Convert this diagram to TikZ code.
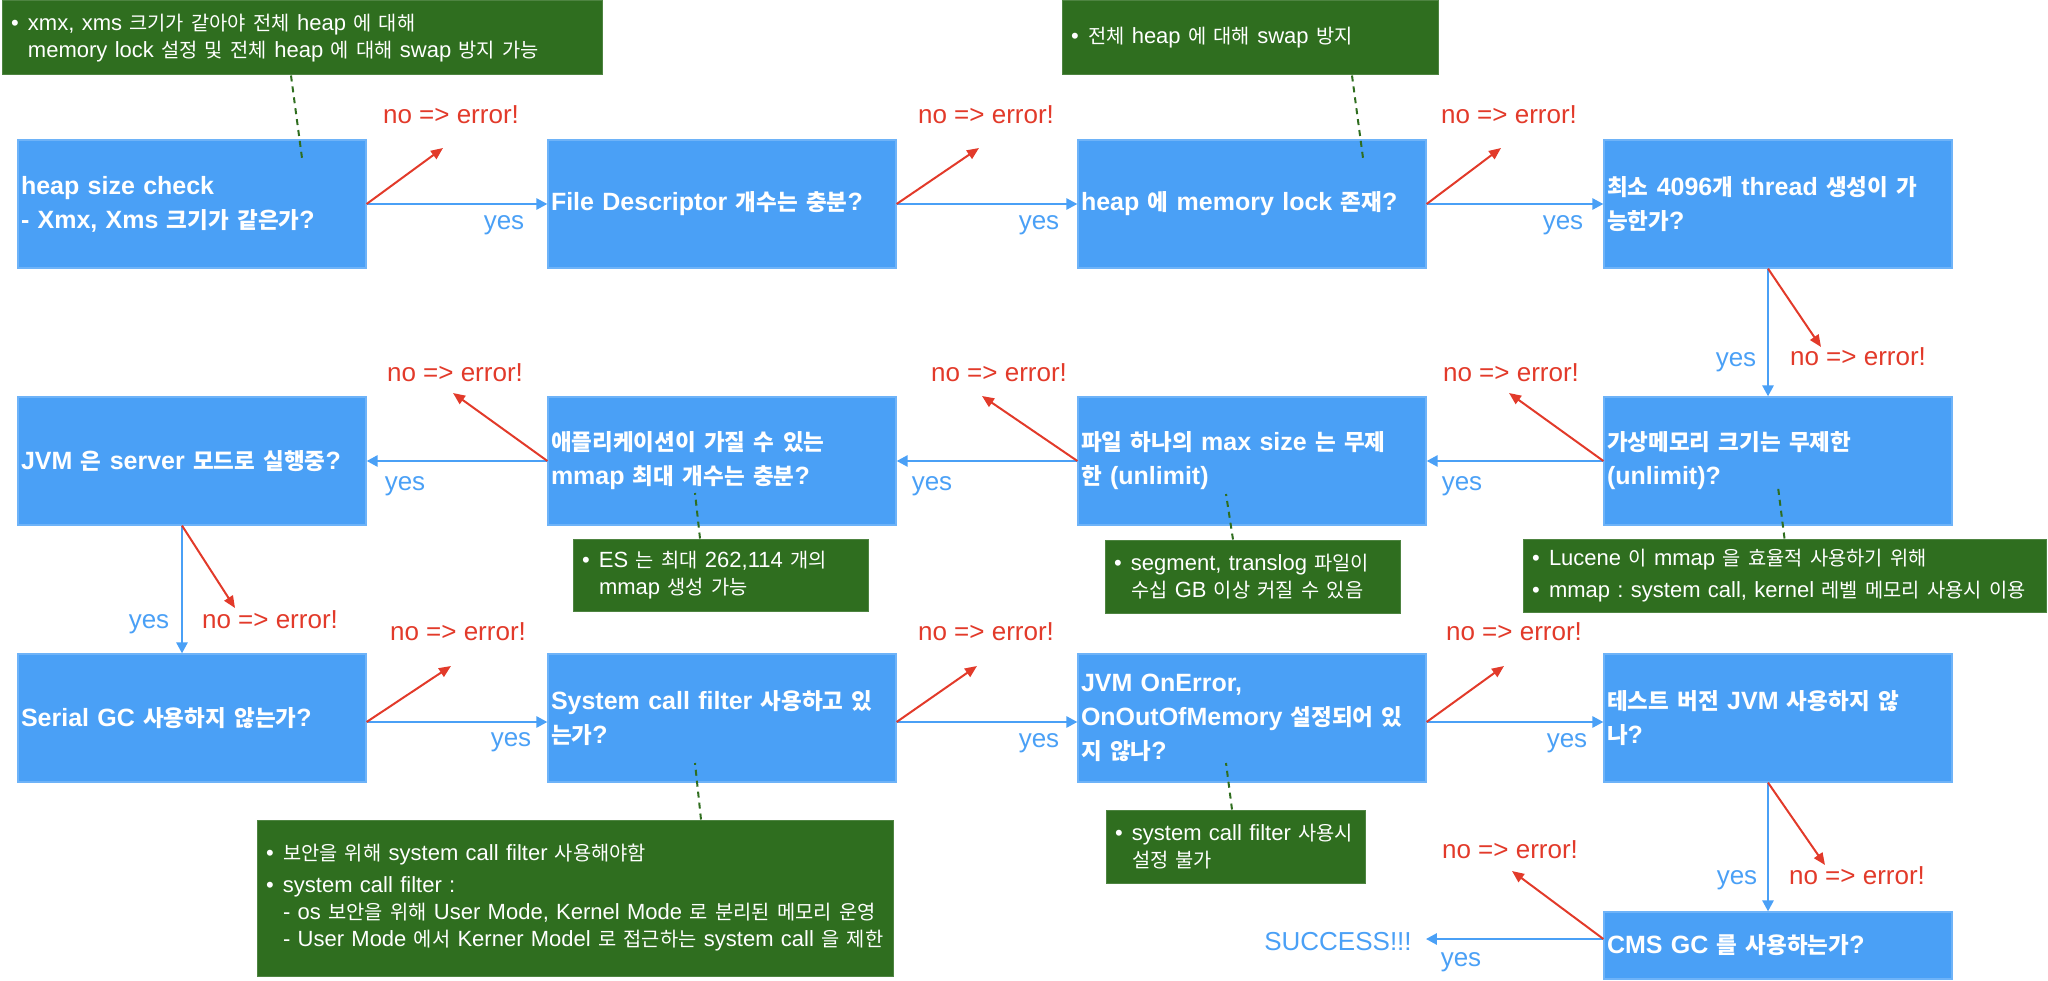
\documentclass[tikz,border=0pt]{standalone}
\usepackage{fontspec}
\setmainfont{Liberation Sans}
\newfontfamily\krfont[Scale=0.9]{Noto Sans CJK KR}
\usetikzlibrary{arrows.meta,calc}
\XeTeXinterchartokenstate=1
\newXeTeXintercharclass\krclass
\count255="AC00
\loop\ifnum\count255<"D7A4\relax
  \XeTeXcharclass\count255=\krclass
  \advance\count255 by 1
\repeat
\XeTeXinterchartoks 0 \krclass={\krfont}
\XeTeXinterchartoks 4095 \krclass={\krfont}
\XeTeXinterchartoks \krclass 0={\rmfamily}
\XeTeXinterchartoks \krclass 4095={\rmfamily}
\frenchspacing
\definecolor{qblue}{RGB}{74,160,246}
\definecolor{qgreen}{RGB}{47,110,31}
\definecolor{qred}{RGB}{226,58,42}
\newcommand{\bl}{\makebox[17pt][l]{•}}
\newcommand{\ind}{\hspace*{17pt}}
\begin{document}
\begin{tikzpicture}[x=1pt,y=-1pt,
  qbox/.style={fill=qblue, draw=qblue!80!white, line width=1.2pt, text=white,
    font=\fontsize{25}{34}\selectfont\bfseries, text width=342pt, align=left,
    inner xsep=3pt, inner ysep=0pt, minimum height=128pt},
  gbox/.style={fill=qgreen, draw=qgreen!85!white, line width=1pt, text=white,
    font=\fontsize{22}{27}\selectfont\frenchspacing, align=left, inner xsep=9pt, inner ysep=0pt},
  yarr/.style={draw=qblue, line width=2.6pt, -{Triangle[length=11pt,width=11pt]}},
  narr/.style={draw=qred, line width=2pt, -{Triangle[length=12pt,width=10pt]}},
  ylab/.style={text=qblue, font=\fontsize{26}{30}\selectfont, inner sep=0pt},
  nlab/.style={text=qred, font=\fontsize{26}{30}\selectfont, inner sep=0pt},
  note/.style={draw=qgreen, line width=2pt, dash pattern=on 6pt off 5pt}]
\useasboundingbox (0,0) rectangle (2048,981);

% question boxes
\node[qbox] (b1) at (192,204) {heap size check\\- Xmx, Xms 크기가 같은가?};
\node[qbox] (b2) at (722,204) {File Descriptor 개수는 충분?};
\node[qbox] (b3) at (1252,204) {heap 에 memory lock 존재?};
\node[qbox] (b4) at (1778,204) {최소 4096개 thread 생성이 가\\능한가?};
\node[qbox] (b5) at (192,461) {JVM 은 server 모드로 실행중?};
\node[qbox] (b6) at (722,461) {애플리케이션이 가질 수 있는\\mmap 최대 개수는 충분?};
\node[qbox] (b7) at (1252,461) {파일 하나의 max size 는 무제\\한 (unlimit)};
\node[qbox] (b8) at (1778,461) {가상메모리 크기는 무제한\\(unlimit)?};
\node[qbox] (b9) at (192,718) {Serial GC 사용하지 않는가?};
\node[qbox] (b10) at (722,718) {System call filter 사용하고 있\\는가?};
\node[qbox] (b11) at (1252,718) {JVM OnError,\\OnOutOfMemory 설정되어 있\\지 않나?};
\node[qbox] (b12) at (1778,718) {테스트 버전 JVM 사용하지 않\\나?};
\node[qbox, minimum height=67pt] (b13) at (1778,945.5) {CMS GC 를 사용하는가?};

% notes
\node[gbox, text width=582pt, minimum height=74pt] (g1) at (302,38)
  {\bl xmx, xms 크기가 같아야 전체 heap 에 대해\\\ind memory lock 설정 및 전체 heap 에 대해 swap 방지 가능};
\node[gbox, text width=358pt, minimum height=74pt] (g2) at (1250,38)
  {\bl 전체 heap 에 대해 swap 방지};
\node[gbox, text width=277pt, minimum height=72pt] (g3) at (720.5,575)
  {\bl ES 는 최대 262,114 개의\\\ind mmap 생성 가능};
\node[gbox, text width=277pt, minimum height=73pt] (g4) at (1252.5,576.5)
  {\bl segment, translog 파일이\\\ind 수십 GB 이상 커질 수 있음};
\node[gbox, text width=505pt, minimum height=73pt] (g5) at (1784.5,575.5)
  {\bl Lucene 이 mmap 을 효율적 사용하기 위해\\[5pt]\bl mmap : system call, kernel 레벨 메모리 사용시 이용};
\node[gbox, text width=618pt, minimum height=156pt] (g6) at (575,898)
  {\bl 보안을 위해 system call filter 사용해야함\\[5pt]\bl system call filter :\\\ind - os 보안을 위해 User Mode, Kernel Mode 로 분리된 메모리 운영\\\ind - User Mode 에서 Kerner Model 로 접근하는 system call 을 제한};
\node[gbox, text width=241pt, minimum height=73pt] (g7) at (1235.5,846.5)
  {\bl system call filter 사용시\\\ind 설정 불가};

% red tips
\coordinate (e1) at (443,148);
\coordinate (e2) at (979,148);
\coordinate (e3) at (1501,148);
\coordinate (e4) at (1821,347);
\coordinate (e8) at (1509,393);
\coordinate (e7) at (982,396);
\coordinate (e6) at (453,393);
\coordinate (e5) at (235,608);
\coordinate (e9) at (451,666);
\coordinate (e10) at (977,666);
\coordinate (e11) at (1504,666);
\coordinate (e12) at (1825,865);
\coordinate (e13) at (1512,871);

% success
\node[ylab] (succ) at (1338,942) {SUCCESS!!!};

% yes arrows
\draw[yarr] (b1.east) -- (b2.west);
\draw[yarr] (b2.east) -- (b3.west);
\draw[yarr] (b3.east) -- (b4.west);
\draw[yarr] ([xshift=-10pt]b4.south) -- ([xshift=-10pt]b8.north);
\draw[yarr] (b8.west) -- (b7.east);
\draw[yarr] (b7.west) -- (b6.east);
\draw[yarr] (b6.west) -- (b5.east);
\draw[yarr] ([xshift=-10pt]b5.south) -- ([xshift=-10pt]b9.north);
\draw[yarr] ([yshift=-4pt]b9.east) -- ([yshift=-4pt]b10.west);
\draw[yarr] ([yshift=-4pt]b10.east) -- ([yshift=-4pt]b11.west);
\draw[yarr] ([yshift=-4pt]b11.east) -- ([yshift=-4pt]b12.west);
\draw[yarr] ([xshift=-10pt]b12.south) -- ([xshift=-10pt]b13.north);
\draw[yarr] ([yshift=6.5pt]b13.west) -- ([xshift=14pt,yshift=3pt]succ.east);

% no arrows
\draw[narr] (b1.east) -- (e1);
\draw[narr] (b2.east) -- (e2);
\draw[narr] (b3.east) -- (e3);
\draw[narr] ([xshift=-10pt]b4.south) -- (e4);
\draw[narr] (b8.west) -- (e8);
\draw[narr] (b7.west) -- (e7);
\draw[narr] (b6.west) -- (e6);
\draw[narr] ([xshift=-10pt]b5.south) -- (e5);
\draw[narr] ([yshift=-4pt]b9.east) -- (e9);
\draw[narr] ([yshift=-4pt]b10.east) -- (e10);
\draw[narr] ([yshift=-4pt]b11.east) -- (e11);
\draw[narr] ([xshift=-10pt]b12.south) -- (e12);
\draw[narr] ([yshift=6.5pt]b13.west) -- (e13);

% labels
\node[nlab] (n1) at (451,115) {no => error!};
\node[nlab] (n2) at (986,115) {no => error!};
\node[nlab] (n3) at (1509,115) {no => error!};
\node[nlab] (n4) at (1858,357) {no => error!};
\node[nlab] (n8) at (1511,373) {no => error!};
\node[nlab] (n7) at (999,373) {no => error!};
\node[nlab] (n6) at (455,373) {no => error!};
\node[nlab] (n5) at (270,620) {no => error!};
\node[nlab] (n9) at (458,632) {no => error!};
\node[nlab] (n10) at (986,632) {no => error!};
\node[nlab] (n11) at (1514,632) {no => error!};
\node[nlab] (n12) at (1857,876) {no => error!};
\node[nlab] (n13) at (1510,850) {no => error!};

\node[ylab] (y1) at (504,225) {yes};
\node[ylab] (y2) at (1039,225) {yes};
\node[ylab] (y3) at (1563,225) {yes};
\node[ylab] (y4) at (1736,362) {yes};
\node[ylab] (y8) at (1462,486) {yes};
\node[ylab] (y7) at (932,486) {yes};
\node[ylab] (y6) at (405,486) {yes};
\node[ylab] (y5) at (149,624) {yes};
\node[ylab] (y9) at (511,742) {yes};
\node[ylab] (y10) at (1039,743) {yes};
\node[ylab] (y11) at (1567,743) {yes};
\node[ylab] (y12) at (1737,880) {yes};
\node[ylab] (y13) at (1461,962) {yes};

% dashed note links
\coordinate (d1) at (302,158);
\coordinate (d2) at (1363,158);
\coordinate (d3) at (695,493);
\coordinate (d4) at (1226,494);
\coordinate (d5) at (1778,487);
\coordinate (d6) at (695,763);
\coordinate (d7) at (1226,763);
\draw[note] ([xshift=-11pt]g1.south) -- (d1);
\draw[note] ([xshift=102pt]g2.south) -- (d2);
\draw[note] ([xshift=-20.5pt]g3.north) -- (d3);
\draw[note] ([xshift=-19.5pt]g4.north) -- (d4);
\draw[note] (g5.north) -- (d5);
\draw[note] ([xshift=126pt]g6.north) -- (d6);
\draw[note] ([xshift=-3.5pt]g7.north) -- (d7);
\end{tikzpicture}
\end{document}
